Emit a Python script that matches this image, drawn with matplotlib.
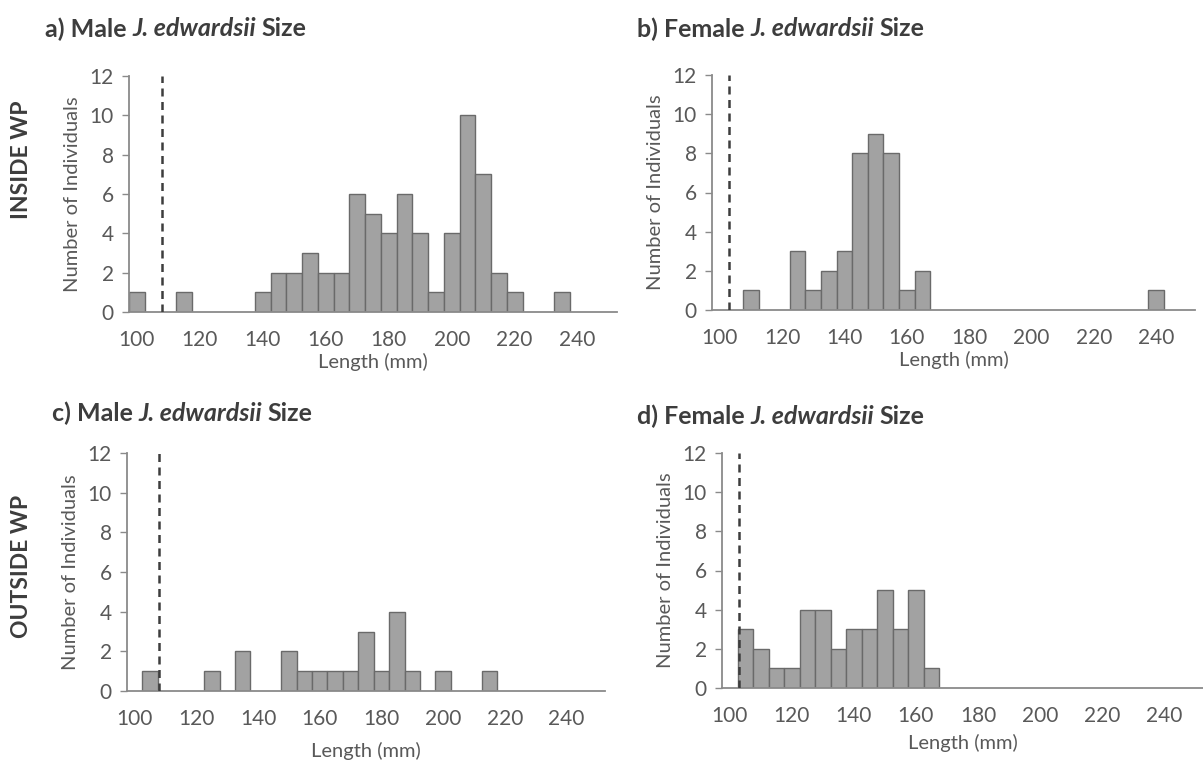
import matplotlib
matplotlib.use("Agg")
import matplotlib.pyplot as plt

plt.rcParams['font.family'] = ['Lato', 'DejaVu Sans']

# Length classes (5 mm, class midpoint in mm) and number of lobsters per class
male_inside_len = [100, 115, 140, 145, 150, 155, 160, 165, 170, 175, 180, 185,
                   190, 195, 200, 205, 210, 215, 220, 235]
male_inside_n = [1, 1, 1, 2, 2, 3, 2, 2, 6, 5, 4, 6, 4, 1, 4, 10, 7, 2, 1, 1]

female_inside_len = [110, 125, 130, 135, 140, 145, 150, 155, 160, 165, 240]
female_inside_n = [1, 3, 1, 2, 3, 8, 9, 8, 1, 2, 1]

male_outside_len = [105, 125, 135, 150, 155, 160, 165, 170, 175, 180, 185, 190,
                    200, 215]
male_outside_n = [1, 1, 2, 2, 1, 1, 1, 1, 3, 1, 4, 1, 1, 1]

female_outside_len = [105, 110, 115, 120, 125, 130, 135, 140, 145, 150, 155,
                      160, 165]
female_outside_n = [3, 2, 1, 1, 4, 4, 2, 3, 3, 5, 3, 5, 1]

# Minimum legal size (mm) for each sex
male_min_size = 108
female_min_size = 103

x_ticks = [100, 120, 140, 160, 180, 200, 220, 240]
y_ticks = [0, 2, 4, 6, 8, 10, 12]

# Panel titles as (plain, italic, plain) pieces
panel_titles = [
    ("a) Male", "J. edwardsii", "Size"),
    ("b) Female", "J. edwardsii", "Size"),
    ("c) Male", "J. edwardsii", "Size"),
    ("d) Female", "J. edwardsii", "Size"),
]
row_labels = ["INSIDE WP", "OUTSIDE WP"]

W, H = 1203, 762
fig = plt.figure(figsize=(W / 100, H / 100), dpi=100)
fig.patch.set_facecolor('white')
renderer = fig.canvas.get_renderer()

AXIS_GRAY = '#8a8a8a'
TEXT_GRAY = '#595959'
DARK = '#3d3d3d'


def px_axes(left, top, right, bottom):
    """Create axes from a pixel box (origin at top-left of the figure)."""
    return fig.add_axes([left / W, 1 - bottom / H, (right - left) / W, (bottom - top) / H])


def draw_panel(ax, lengths, counts, min_size, xlabel_pad):
    ax.bar(lengths, counts, width=5, align='center', color='#a2a2a2',
           edgecolor='#6a6a6a', linewidth=1.0, zorder=2)
    ax.axvline(min_size, ymin=0, ymax=1, color=DARK, lw=1.8,
               linestyle=(0, (3.2, 2.2)), zorder=3)
    ax.set_xlim(97.5, 252.5)
    ax.set_ylim(0, 12)
    for s in ('top', 'right'):
        ax.spines[s].set_visible(False)
    for s in ('left', 'bottom'):
        ax.spines[s].set_color(AXIS_GRAY)
        ax.spines[s].set_linewidth(1.3)
    ax.set_xticks(x_ticks)
    ax.set_yticks(y_ticks)
    ax.tick_params(axis='x', length=0, pad=13, labelsize=15, labelcolor=TEXT_GRAY)
    ax.tick_params(axis='y', length=5, width=1, color=AXIS_GRAY, pad=6,
                   labelsize=15, labelcolor=TEXT_GRAY)
    ax.set_xlabel('Length (mm)', fontsize=14.5, color=TEXT_GRAY, labelpad=xlabel_pad)
    ax.set_ylabel('Number of Individuals', fontsize=14.5, color=TEXT_GRAY, labelpad=6)
    ax.patch.set_alpha(0)


ax_a = px_axes(129, 76, 617, 312)
ax_b = px_axes(712, 75, 1195, 310)
ax_c = px_axes(127, 453, 605, 691)
ax_d = px_axes(722, 453, 1203, 688)

draw_panel(ax_a, male_inside_len, male_inside_n, male_min_size, 2)
draw_panel(ax_b, female_inside_len, female_inside_n, female_min_size, 2)
draw_panel(ax_c, male_outside_len, male_outside_n, male_min_size, 9)
draw_panel(ax_d, female_outside_len, female_outside_n, female_min_size, 6)


def text_width(s, **kw):
    t = fig.text(0, 0, s, **kw)
    w = t.get_window_extent(renderer).width
    t.remove()
    return w


TITLE_SIZE = 18
title_kw = dict(fontsize=TITLE_SIZE, fontweight='bold', color=DARK)
space_w = text_width("n n", **title_kw) - text_width("nn", **title_kw)

title_pos = [(45, 27), (637, 27), (52, 411), (637, 414)]
for (tx, ty), pieces in zip(title_pos, panel_titles):
    x = tx
    for piece, style in zip(pieces, ('normal', 'italic', 'normal')):
        t = fig.text(x / W, 1 - ty / H, piece, fontstyle=style, ha='left',
                     va='center_baseline', **title_kw)
        x += t.get_window_extent(renderer).width + space_w * 0.9

fig.text(22 / W, 1 - 160 / H, row_labels[0], rotation=90, fontsize=16.5,
         fontweight='bold', color=DARK, ha='center', va='center')
fig.text(22 / W, 1 - 566 / H, row_labels[1], rotation=90, fontsize=16.5,
         fontweight='bold', color=DARK, ha='center', va='center')

fig.savefig('out.png', dpi=100, facecolor='white')
